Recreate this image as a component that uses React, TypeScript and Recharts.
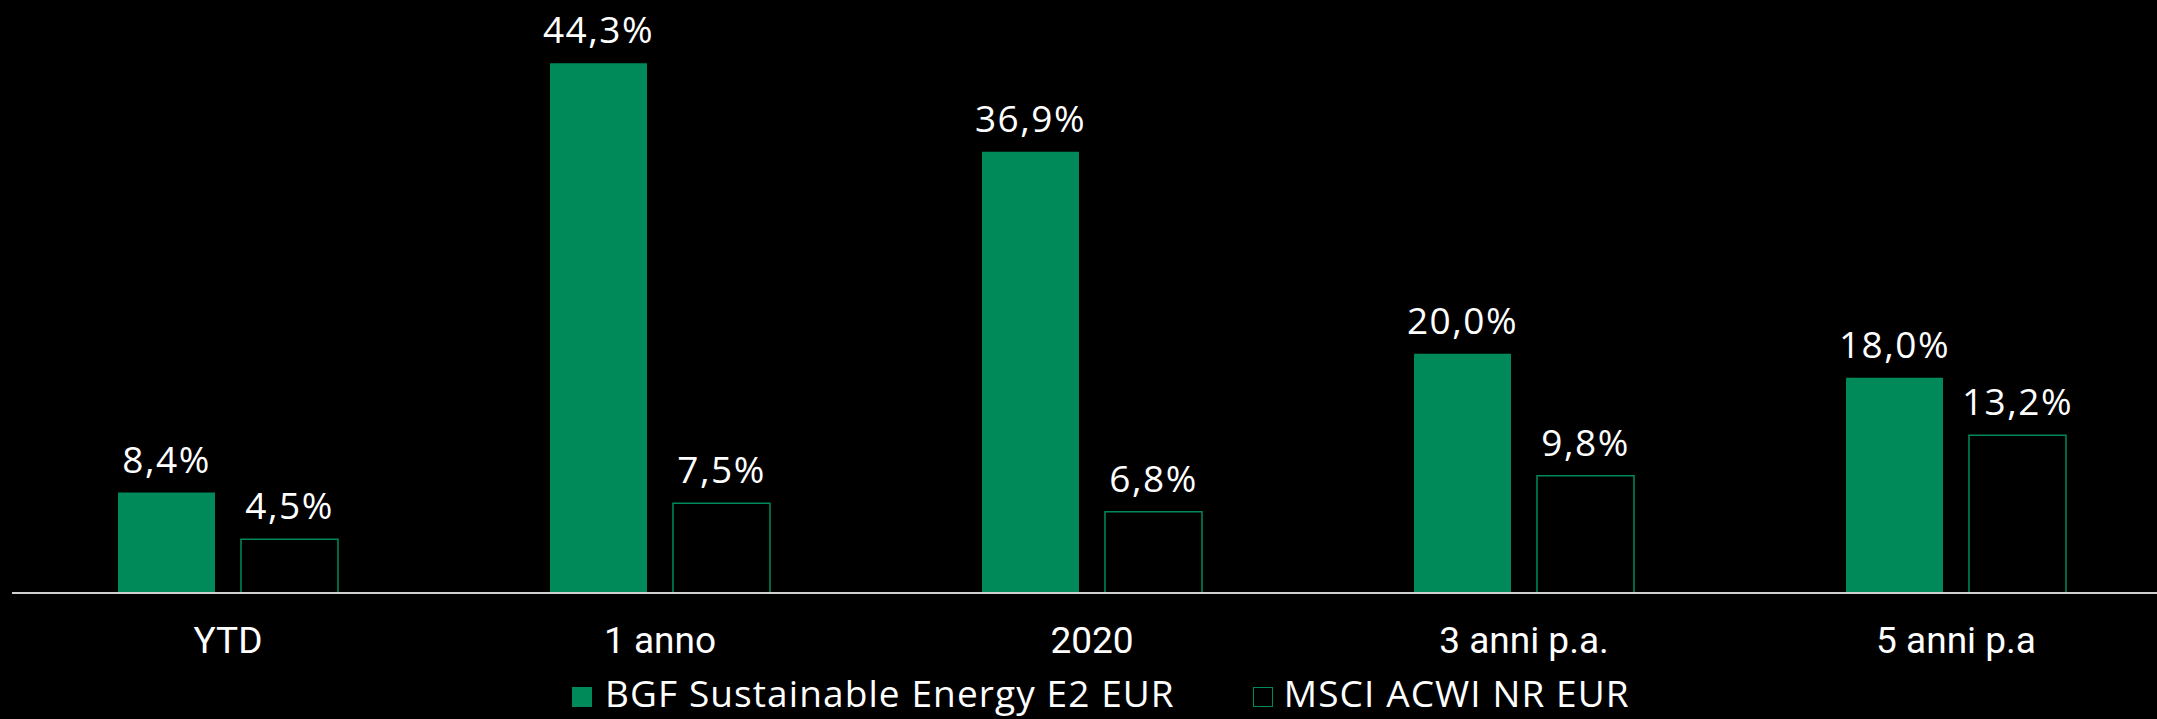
import { BarChart, Bar, XAxis, YAxis, LabelList } from 'recharts';

const categories = ['YTD', '1 anno', '2020', '3 anni p.a.', '5 anni p.a'];
const fundValues = [8.4, 44.3, 36.9, 20.0, 18.0];
const indexValues = [4.5, 7.5, 6.8, 9.8, 13.2];
const seriesNames = ['BGF Sustainable Energy E2 EUR', 'MSCI ACWI NR EUR'];

const GREEN = '#008a5a';
const FONT = '"Open Sans", Roboto, sans-serif';
const TICK_FONT = 'Roboto, "Open Sans", sans-serif';
const FS = 37;

const data = categories.map((name, i) => ({
  name,
  fund: fundValues[i],
  index: indexValues[i],
}));

const fmt = (v: unknown) => `${Number(v).toFixed(1).replace('.', ',')}%`;

const labelStyle = { fill: '#fff', fontSize: FS, fontFamily: FONT, letterSpacing: 1.5 };

const App = () => {
  return (
    <div
      style={{
        position: 'relative',
        width: 2157,
        height: 719,
        overflow: 'hidden',
        background: '#000',
        fontFamily: FONT,
      }}
    >
      <style>{`body{margin:0;background:#000}`}</style>
      <BarChart
        width={2200}
        height={719}
        data={data}
        margin={{ top: 19, right: 28, bottom: 0, left: 12 }}
        barCategoryGap="24.5%"
        barGap={26}
      >
        <XAxis
          dataKey="name"
          axisLine={{ stroke: '#d0d0d0', strokeWidth: 2 }}
          tickLine={false}
          tickSize={0}
          tickMargin={34}
          height={126}
          tick={{ fill: '#fff', fontSize: FS, fontFamily: TICK_FONT }}
          interval={0}
        />
        <YAxis hide domain={[0, 48]} />
        <Bar dataKey="fund" name={seriesNames[0]} fill={GREEN} barSize={97} isAnimationActive={false}>
          <LabelList dataKey="fund" position="top" offset={20} formatter={fmt} style={labelStyle} />
        </Bar>
        <Bar
          dataKey="index"
          name={seriesNames[1]}
          fill="#000"
          stroke={GREEN}
          strokeWidth={1.5}
          barSize={97}
          isAnimationActive={false}
        >
          <LabelList dataKey="index" position="top" offset={20} formatter={fmt} style={labelStyle} />
        </Bar>
      </BarChart>
      <div
        style={{
          position: 'absolute',
          left: 572,
          top: 674,
          display: 'flex',
          alignItems: 'center',
          color: '#fff',
          fontSize: FS,
          lineHeight: `${FS}px`,
          letterSpacing: 1.1,
          whiteSpace: 'nowrap',
        }}
      >
        <span style={{ width: 20, height: 20, background: GREEN, marginRight: 13, marginTop: 8 }} />
        <span>{seriesNames[0]}</span>
        <span
          style={{
            width: 18,
            height: 18,
            border: `1.5px solid ${GREEN}`,
            marginLeft: 78,
            marginRight: 11,
            marginTop: 8,
          }}
        />
        <span>{seriesNames[1]}</span>
      </div>
    </div>
  );
};

export default App;
